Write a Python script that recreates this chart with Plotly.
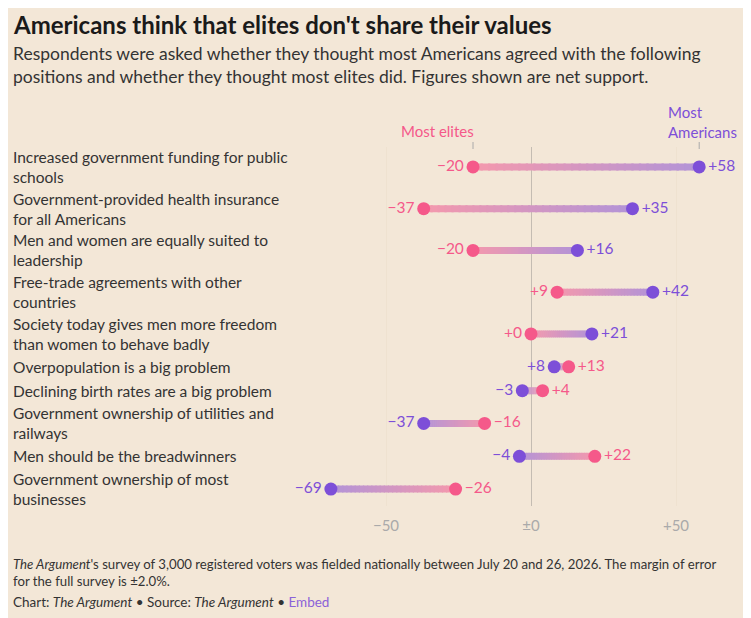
"""Dumbbell chart: how Americans think most Americans vs most elites feel about policy positions."""

import plotly.graph_objects as go

# --- data ---
positions = [
    "Increased government funding for public<br>schools",
    "Government-provided health insurance<br>for all Americans",
    "Men and women are equally suited to<br>leadership",
    "Free-trade agreements with other<br>countries",
    "Society today gives men more freedom<br>than women to behave badly",
    "Overpopulation is a big problem",
    "Declining birth rates are a big problem",
    "Government ownership of utilities and<br>railways",
    "Men should be the breadwinners",
    "Government ownership of most<br>businesses",
]
most_americans = [58, 35, 16, 42, 21, 8, -3, -37, -4, -69]
most_elites = [-20, -37, -20, 9, 0, 13, 4, -16, 22, -26]
tick_vals = [-50, 0, 50]
tick_text = ["\u221250", "\u00b10", "+50"]

# page body has an 8px margin, so the figure is a bit smaller than the window
OFF = 8
W, H = 751 - OFF, 618 - OFF
BG = (243, 231, 215)
PINK = (245, 89, 138)
PURPLE = (125, 79, 216)
FONT = "Lato, 'Open Sans', sans-serif"


def fmt(v):
    return f"{v:+d}".replace("-", "\u2212")


def rgb(c):
    return f"rgb({c[0]},{c[1]},{c[2]})"


def blend(c, a):
    return tuple(int(round(c[j] * a + BG[j] * (1 - a))) for j in range(3))


def px(x):
    # window pixel from left -> paper fraction
    return (x - OFF) / W


def py(y):
    # window pixel from top -> paper fraction
    return 1 - (y - OFF) / H


# row layout: each label line takes 18px, plus 6px padding
heights = [18 * (p.count("<br>") + 1) + 6 for p in positions]
row_y = [0.0]
for i in range(1, len(positions)):
    row_y.append(row_y[-1] + (heights[i - 1] + heights[i]) / 2)

fig = go.Figure()

# gradient connectors (elites -> americans), faded colours
steps = 30
for y, e, a in zip(row_y, most_elites, most_americans):
    for k in range(steps):
        t0, t1 = k / steps, min((k + 1.3) / steps, 1)
        tm = (k + 0.5) / steps
        col = tuple(PINK[j] + (PURPLE[j] - PINK[j]) * tm for j in range(3))
        fig.add_trace(go.Scatter(
            x=[e + (a - e) * t0, e + (a - e) * t1],
            y=[y, y], mode="lines",
            line=dict(color=rgb(blend(col, 0.55)), width=7),
            hoverinfo="skip", showlegend=False,
        ))

for vals, other, col in [(most_elites, most_americans, PINK), (most_americans, most_elites, PURPLE)]:
    fig.add_trace(go.Scatter(
        x=vals, y=row_y, mode="markers+text",
        marker=dict(color=rgb(col), size=13),
        text=[fmt(v) for v in vals],
        textposition=["middle left" if v < o else "middle right" for v, o in zip(vals, other)],
        textfont=dict(family=FONT, size=15.5, color=rgb(col)),
        cliponaxis=False, showlegend=False, hoverinfo="skip",
    ))

annotations = []
for y, p in zip(row_y, positions):
    annotations.append(dict(
        x=px(11), xref="paper", y=y, yref="y", text=p, showarrow=False,
        xanchor="left", yanchor="middle", align="left",
        font=dict(family=FONT, size=15.5, color="#333333"),
    ))

# series header labels above first row
annotations.append(dict(
    x=most_elites[0], xref="x", y=py(131), yref="paper", text="Most elites",
    showarrow=False, xanchor="center", yanchor="middle", xshift=-36,
    font=dict(family=FONT, size=15, color=rgb(PINK)),
))
annotations.append(dict(
    x=most_americans[0], xref="x", y=py(122), yref="paper", text="Most<br>Americans",
    showarrow=False, xanchor="left", yanchor="middle", align="left", xshift=-33,
    font=dict(family=FONT, size=15, color=rgb(PURPLE)),
))

# title, subtitle, footer
annotations += [
    dict(x=px(11), y=py(OFF), xref="paper", yref="paper", showarrow=False,
         xanchor="left", yanchor="top",
         text="<b>Americans think that elites don't share their values</b>",
         font=dict(family=FONT, size=24, color="#1a1a1a")),
    dict(x=px(11), y=py(65), xref="paper", yref="paper", showarrow=False,
         xanchor="left", yanchor="middle", align="left",
         text="Respondents were asked whether they thought most Americans agreed with the following<br>"
              "positions and whether they thought most elites did. Figures shown are net support.",
         font=dict(family=FONT, size=17.5, color="#333333")),
    dict(x=px(11), y=py(572), xref="paper", yref="paper", showarrow=False,
         xanchor="left", yanchor="middle", align="left",
         text="<i>The Argument</i>'s survey of 3,000 registered voters was fielded nationally between July 20 and 26, 2026. The margin of error<br>"
              "for the full survey is \u00b12.0%.",
         font=dict(family=FONT, size=13.2, color="#333333")),
    dict(x=px(11), y=py(602), xref="paper", yref="paper", showarrow=False,
         xanchor="left", yanchor="middle", align="left",
         text="Chart: <i>The Argument</i> \u2022 Source: <i>The Argument</i> \u2022 "
              "<span style='color:#8b62d8'>Embed</span>",
         font=dict(family=FONT, size=13.5, color="#333333")),
]

# little ticks under the header labels
shapes = [
    dict(type="line", xref="x", yref="paper", x0=v, x1=v, y0=py(149), y1=py(142),
         line=dict(color="#aaaaaa", width=1))
    for v in (most_elites[0], most_americans[0])
]

fig.update_layout(
    width=W, height=H,
    margin=dict(l=0, r=0, t=0, b=0),
    paper_bgcolor=rgb(BG), plot_bgcolor=rgb(BG),
    annotations=annotations, shapes=shapes,
    xaxis=dict(
        range=[-75, 75], domain=[px(313.5), px(748.5)],
        tickvals=tick_vals, ticktext=tick_text,
        tickfont=dict(family=FONT, size=15, color="#aaaaaa"),
        ticklabelstandoff=9,
        showgrid=True, gridcolor="#efe2d0", gridwidth=1,
        zeroline=True, zerolinecolor="#c4bcb2", zerolinewidth=1,
        showline=False, ticks="",
    ),
    yaxis=dict(
        range=[row_y[-1] + 17, -20], domain=[py(506), py(147)],
        showgrid=False, zeroline=False, showticklabels=False,
    ),
)

fig.write_html("out.html")
